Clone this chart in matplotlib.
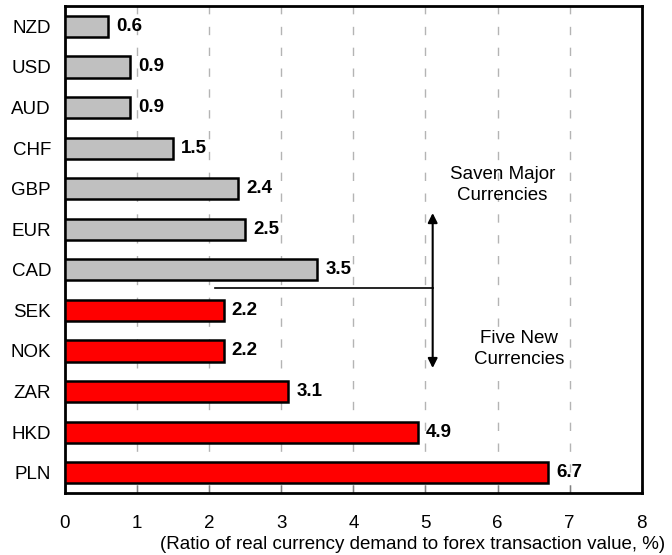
import matplotlib
matplotlib.use("Agg")
import matplotlib.pyplot as plt

plt.rcParams["font.family"] = ["Liberation Sans", "DejaVu Sans"]

currencies = ["NZD", "USD", "AUD", "CHF", "GBP", "EUR", "CAD",
              "SEK", "NOK", "ZAR", "HKD", "PLN"]
ratios = [0.6, 0.9, 0.9, 1.5, 2.4, 2.5, 3.5, 2.2, 2.2, 3.1, 4.9, 6.7]
groups = ["major"] * 7 + ["new"] * 5
group_colors = {"major": "#C0C0C0", "new": "#FF0000"}
x_ticks = [0, 1, 2, 3, 4, 5, 6, 7, 8]

FS = 13.5


def main():
    fig = plt.figure(figsize=(6.72, 5.55), dpi=100)
    ax = fig.add_axes([0.0967, 0.1117, 0.8583, 0.8773])

    pos = list(range(len(currencies)))
    colors = [group_colors[g] for g in groups]
    ax.barh(pos, ratios, height=0.52, color=colors, edgecolor="black",
            linewidth=1.8, zorder=3)

    for y, v in zip(pos, ratios):
        ax.text(v + 0.11, y, f"{v:.1f}", va="center", ha="left",
                fontsize=FS, fontweight="bold", zorder=4)

    ax.set_xlim(0, 8)
    ax.set_ylim(len(currencies) - 0.5, -0.5)
    ax.set_xticks(x_ticks)
    ax.set_yticks(pos)
    ax.set_yticklabels(currencies)

    ax.tick_params(axis="y", length=0, pad=10, labelsize=FS)
    ax.tick_params(axis="x", direction="in", length=6, width=1,
                   color="#808080", pad=16, labelsize=FS)

    ax.grid(axis="x", color="#b4b4b4", linestyle=(0, (6, 9)), linewidth=1,
            zorder=0)
    ax.set_axisbelow(True)
    for s in ax.spines.values():
        s.set_linewidth(2)

    ax.set_xlabel("(Ratio of real currency demand to forex transaction value, %)",
                  fontsize=FS, loc="right")
    ax.xaxis.set_label_coords(1.04, -0.088)

    # split between the two currency groups
    ax.plot([2.08, 5.1], [6.45, 6.45], color="black", linewidth=1.2, zorder=5)
    ax.annotate("", xy=(5.1, 4.6), xytext=(5.1, 8.42),
                arrowprops=dict(arrowstyle="<|-|>", color="black", lw=1.5,
                                mutation_scale=14, shrinkA=0, shrinkB=0),
                zorder=5)

    ax.text(6.07, 3.91, "Saven Major\nCurrencies", ha="center", va="center",
            fontsize=FS, linespacing=1.3, zorder=4)
    ax.text(6.3, 7.95, "Five New\nCurrencies", ha="center", va="center",
            fontsize=FS, linespacing=1.3, zorder=4,
            bbox=dict(facecolor="white", edgecolor="none", pad=2))

    fig.savefig("out.png", dpi=100)
    plt.close(fig)


if __name__ == "__main__":
    main()
